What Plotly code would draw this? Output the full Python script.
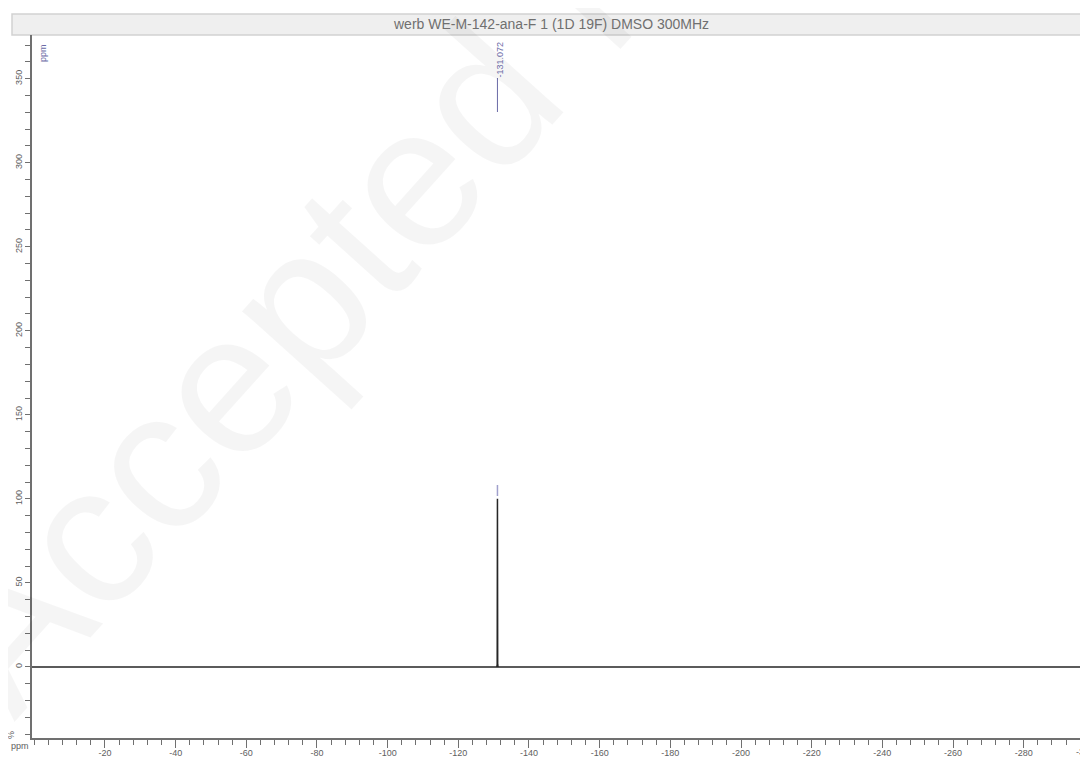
import plotly.graph_objects as go

# ---- data ----
shift_ppm = [0.65, -130.90, -131.00, -131.072, -131.14, -131.25, -298.2]
intensity = [0.0, 0.0, 1.5, 100.0, 1.5, 0.0, 0.0]

peak_label_ppm = -131.072
peak_label_text = "-131.072"

x_major_ticks = [-20, -40, -60, -80, -100, -120, -140, -160, -180, -200,
                 -220, -240, -260, -280]
x_tick_labels = [str(v) for v in x_major_ticks]
y_major_ticks = [0, 50, 100, 150, 200, 250, 300, 350]
y_tick_labels = [str(v) for v in y_major_ticks]

title_text = "werb WE-M-142-ana-F 1 (1D 19F) DMSO 300MHz"
watermark_text = "Accepted Manuscript"

# ---- geometry (page has an 8px body margin) ----
OFF = 8
W, H = 1080, 750
L, R, T, B = 24, 0, 27, 20
X_RANGE = [0.65, -298.2]
Y_RANGE = [-42.3, 376.0]
pw, ph = W - L - R, H - T - B


def px(xp):
    """reference-page x pixel -> paper x"""
    return (xp - OFF - L) / pw


def py(yp):
    """reference-page y pixel -> paper y"""
    return (H - B - (yp - OFF)) / ph


x_minor = [v for v in range(0, -300, -4)]
y_minor = [v for v in range(-40, 380, 10)]

axis_col = "#707070"
label_col = "#606060"
blue_col = "#6a6aa6"

fig = go.Figure()
fig.add_trace(go.Scatter(
    x=shift_ppm, y=intensity, mode="lines",
    line=dict(color="#262626", width=1.5),
    hoverinfo="skip", showlegend=False,
))

fig.update_layout(
    width=W, height=H,
    margin=dict(l=L, r=R, t=T, b=B, pad=0, autoexpand=False),
    paper_bgcolor="white", plot_bgcolor="white",
    font=dict(family="Liberation Sans, Arial, sans-serif", size=9, color=label_col),
    showlegend=False,
)

fig.update_xaxes(
    range=X_RANGE, showgrid=False, zeroline=False, automargin=False,
    showline=True, linecolor=axis_col, linewidth=1.5,
    ticks="outside", ticklen=8, tickwidth=1, tickcolor=axis_col,
    ticklabelstandoff=-3,
    tickmode="array", tickvals=x_major_ticks, ticktext=x_tick_labels,
    tickfont=dict(size=9, color=label_col),
    minor=dict(tickmode="array", tickvals=x_minor, ticks="outside",
               ticklen=5, tickwidth=1, tickcolor=axis_col, showgrid=False),
)
fig.update_yaxes(
    range=Y_RANGE, showgrid=False, zeroline=False, automargin=False,
    showline=True, linecolor=axis_col, linewidth=1.5,
    ticks="outside", ticklen=5, tickwidth=1, tickcolor=axis_col,
    tickmode="array", tickvals=y_major_ticks, ticktext=y_tick_labels,
    tickangle=-90, tickfont=dict(size=9, color=label_col),
    minor=dict(tickmode="array", tickvals=y_minor, ticks="outside",
               ticklen=5, tickwidth=1, tickcolor=axis_col, showgrid=False),
)

shapes = [
    # title bar
    dict(type="rect", xref="paper", yref="paper",
         x0=px(12), x1=px(1100), y0=py(35), y1=py(14),
         fillcolor="#efefef", line=dict(color="#d2d2d2", width=1.5), layer="below"),
    # peak label leader
    dict(type="line", xref="x", yref="paper",
         x0=peak_label_ppm, x1=peak_label_ppm, y0=py(112), y1=py(78),
         line=dict(color=blue_col, width=1)),
    # peak marker above top
    dict(type="line", xref="x", yref="paper",
         x0=peak_label_ppm, x1=peak_label_ppm, y0=py(496), y1=py(485),
         line=dict(color="#a0a0cc", width=1.5)),
]

annotations = [
    dict(text=watermark_text, xref="paper", yref="paper",
         x=px(588), y=py(-18), xanchor="center", yanchor="middle",
         textangle=-48, showarrow=False,
         font=dict(size=200, color="rgba(0,0,0,0.04)",
                   family="Liberation Sans, Arial, sans-serif")),
    dict(text=title_text, xref="paper", yref="paper",
         x=px(551), y=py(24.5), xanchor="center", yanchor="middle",
         showarrow=False, font=dict(size=14, color="#707070")),
    dict(text=peak_label_text, xref="x", yref="paper",
         x=peak_label_ppm, y=py(59), xshift=3, xanchor="center", yanchor="middle",
         textangle=-90, showarrow=False, font=dict(size=9, color=blue_col)),
    dict(text="ppm", xref="paper", yref="paper",
         x=px(43), y=py(53), xanchor="center", yanchor="middle",
         textangle=-90, showarrow=False, font=dict(size=9, color=blue_col)),
    dict(text="%", xref="paper", yref="paper",
         x=px(11), y=py(735), xanchor="center", yanchor="middle",
         textangle=-90, showarrow=False, font=dict(size=9, color=label_col)),
    dict(text="ppm", xref="paper", yref="paper",
         x=px(20), y=py(746), xanchor="center", yanchor="middle",
         showarrow=False, font=dict(size=9, color=label_col)),
    dict(text="-300", xref="paper", yref="paper",
         x=px(1074), y=py(752), xanchor="left", yanchor="middle",
         showarrow=False, font=dict(size=9, color=label_col)),
]

fig.update_layout(shapes=shapes, annotations=annotations)

fig.write_html("out.html")
